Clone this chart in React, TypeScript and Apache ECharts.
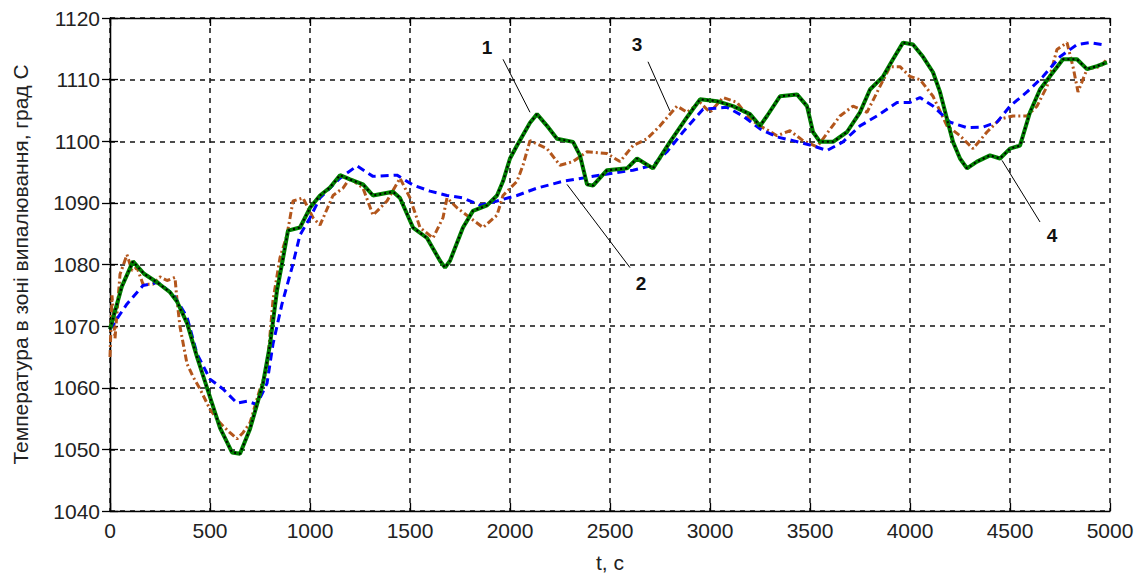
import React, { useEffect, useRef } from "react";
import * as echarts from "echarts";

// Series 1 (black) and 4 (green): measured/model temperature, [t, °C]
const curve1: [number, number][] = [
  [0, 1069.5], [30, 1073], [60, 1076.5], [115, 1080.5], [170, 1078.5], [240, 1077], [300, 1075.5], [335, 1074],
  [385, 1070.5], [435, 1065], [500, 1058.5], [550, 1053.5], [610, 1049.5], [650, 1049.3], [700, 1053.3],
  [765, 1060.7], [800, 1067], [835, 1075.8], [865, 1081], [890, 1085.5], [950, 1086], [1000, 1089.2],
  [1050, 1091.2], [1100, 1092.5], [1150, 1094.5], [1200, 1093.8], [1265, 1093], [1315, 1091.2], [1415, 1091.8],
  [1450, 1090.8], [1515, 1086], [1585, 1084.3], [1650, 1080.6], [1675, 1079.5], [1700, 1080.6], [1765, 1086],
  [1815, 1088.7], [1885, 1089.6], [1935, 1091.2], [1965, 1093.5], [2000, 1097.2], [2035, 1099.3], [2100, 1103],
  [2135, 1104.4], [2185, 1102.5], [2235, 1100.4], [2315, 1099.9], [2350, 1097.7], [2385, 1093], [2415, 1092.8],
  [2485, 1095.3], [2585, 1095.6], [2635, 1097.2], [2715, 1095.6], [2800, 1099.9], [2885, 1103.9], [2950, 1106.8],
  [3035, 1106.5], [3115, 1105.7], [3200, 1104.4], [3250, 1102.5], [3285, 1104.1], [3350, 1107.3], [3435, 1107.6],
  [3485, 1105.7], [3515, 1101.5], [3550, 1099.9], [3615, 1099.9], [3685, 1101.5], [3750, 1104.7], [3800, 1108.4],
  [3865, 1110.5], [3915, 1113.3], [3965, 1116], [4015, 1115.7], [4065, 1113.7], [4115, 1111.2], [4150, 1108],
  [4185, 1103.6], [4215, 1099.9], [4250, 1097.2], [4285, 1095.6], [4335, 1096.7], [4400, 1097.7], [4450, 1097.2],
  [4500, 1098.8], [4550, 1099.3], [4600, 1104.7], [4650, 1108.4], [4715, 1111.2], [4765, 1113.3], [4835, 1113.3],
  [4885, 1111.7], [4935, 1112.2], [4985, 1112.8],
];
const curve4: [number, number][] = curve1;

// Series 2 (blue dashed)
const curve2: [number, number][] = [
  [0, 1069.5], [85, 1073.6], [165, 1076.6], [240, 1077.1], [315, 1075.2], [385, 1071.5], [435, 1065.5],
  [500, 1061.4], [565, 1059.8], [635, 1057.5], [685, 1057.8], [735, 1057.3], [785, 1060.7], [815, 1067.1],
  [860, 1073.6], [910, 1079.5], [950, 1084.8], [1000, 1087.6], [1050, 1090.8], [1150, 1094], [1235, 1096],
  [1315, 1094.3], [1435, 1094.5], [1515, 1092.9], [1600, 1091.9], [1685, 1091.2], [1765, 1090.8], [1850, 1089.6],
  [1935, 1090.3], [2035, 1091.2], [2135, 1092.4], [2265, 1093.5], [2450, 1094.5], [2615, 1095.3], [2715, 1096.1],
  [2785, 1098.3], [2865, 1101.5], [2935, 1104.1], [2965, 1105.2], [3085, 1105.5], [3165, 1104.1], [3250, 1102],
  [3335, 1100.7], [3415, 1100.1], [3500, 1099.4], [3585, 1098.5], [3665, 1099.9], [3750, 1102.5], [3835, 1104.1],
  [3935, 1106.3], [4000, 1106.3], [4050, 1107.1], [4115, 1105.7], [4200, 1103.1], [4285, 1102.2], [4365, 1102.3],
  [4435, 1103.1], [4500, 1105.7], [4585, 1108], [4665, 1110.5], [4750, 1113.7], [4835, 1115.7], [4900, 1116],
  [4960, 1115.7],
];

// Series 3 (brown dash-dot, noisy)
const curve3: [number, number][] = [
  [0, 1065], [10, 1075], [25, 1068], [50, 1078.4], [85, 1081.6], [110, 1079], [135, 1079.5], [165, 1076.8],
  [215, 1076.8], [250, 1078], [285, 1077.4], [325, 1077.9], [335, 1074.2], [350, 1069.9], [385, 1063.9],
  [415, 1061.8], [450, 1059.8], [500, 1056.5], [550, 1054.3], [600, 1052.7], [635, 1051.7], [665, 1052.7],
  [700, 1054.3], [750, 1059.8], [785, 1063], [815, 1074.2], [850, 1081.1], [885, 1084.8], [915, 1090.3],
  [965, 1090.8], [1015, 1087.6], [1050, 1086.4], [1115, 1091.2], [1165, 1092.4], [1200, 1094], [1265, 1092.4],
  [1315, 1088], [1385, 1090.3], [1450, 1094], [1500, 1090.8], [1550, 1086], [1615, 1084.3], [1665, 1087.6],
  [1685, 1090.8], [1735, 1089.2], [1800, 1087.6], [1865, 1086], [1935, 1088], [1965, 1091.2], [2035, 1093.5],
  [2065, 1096.1], [2100, 1100.1], [2185, 1098.8], [2250, 1096.1], [2315, 1096.7], [2385, 1098.3], [2485, 1098],
  [2550, 1096.7], [2615, 1099.3], [2685, 1100.4], [2750, 1102.5], [2835, 1105.7], [2885, 1104.7], [2950, 1106.3],
  [3000, 1104.7], [3065, 1107.1], [3135, 1106.3], [3200, 1103.6], [3250, 1102.5], [3335, 1100.9], [3400, 1101.7],
  [3465, 1100.1], [3535, 1099.1], [3565, 1100.4], [3650, 1104.1], [3715, 1105.7], [3785, 1104.7], [3850, 1108.9],
  [3900, 1112.1], [3950, 1112.1], [4000, 1110.5], [4050, 1110], [4115, 1107.3], [4185, 1102.5], [4250, 1100.9],
  [4315, 1098.8], [4385, 1101.5], [4450, 1103.6], [4515, 1104.1], [4585, 1104.1], [4635, 1105.7], [4685, 1108.9],
  [4735, 1114.9], [4785, 1116], [4815, 1112.1], [4840, 1108], [4885, 1111.7], [4950, 1112.1], [4985, 1113.3],
];

// Curve labels: text, label position, leader line start, leader line end (data coords)
const labelTexts = ["1", "2", "3", "4"];
const labelPos: [number, number][] = [[1885, 1115.2], [2655, 1076.9], [2635, 1115.7], [4710, 1084.7]];
const leaderFrom: [number, number][] = [[1965, 1113.3], [2600, 1079.5], [2690, 1112.9], [4650, 1086.9]];
const leaderTo: [number, number][] = [[2100, 1104.7], [2285, 1093], [2800, 1104.9], [4460, 1096.9]];

const X_MIN = 0, X_MAX = 5000, X_STEP = 500;
const Y_MIN = 1040, Y_MAX = 1120, Y_STEP = 10;

const FONT = "'Liberation Sans', Arial, sans-serif";

export default function App() {
  const ref = useRef<HTMLDivElement>(null);
  useEffect(() => {
    if (!ref.current) return;
    const chart = echarts.init(ref.current, null, { renderer: "svg" });
    const axisLine = { show: true, lineStyle: { color: "#000", width: 1.3 } };
    const tick = { show: true, inside: true, length: 8, lineStyle: { color: "#000", width: 1.3 } };
    const grid = { show: true, lineStyle: { color: "#111", type: [5, 5], width: 1.5 } };
    const fmt = (v: number) => String(v);
    chart.setOption({
      animation: false,
      backgroundColor: "#fff",
      grid: { left: 110, right: 30, top: 18, bottom: 57, containLabel: false },
      xAxis: [
        {
          type: "value", min: X_MIN, max: X_MAX, interval: X_STEP, position: "bottom",
          name: "t, c", nameLocation: "middle", nameGap: 41,
          nameTextStyle: { fontFamily: FONT, fontSize: 21, color: "#222" },
          axisLine, axisTick: tick,
          axisLabel: { fontFamily: FONT, fontSize: 21, color: "#222", margin: 9, formatter: fmt },
          splitLine: grid,
        },
        {
          type: "value", min: X_MIN, max: X_MAX, interval: X_STEP, position: "top",
          axisLine, axisTick: tick, axisLabel: { show: false }, splitLine: { show: false },
        },
      ],
      yAxis: [
        {
          type: "value", min: Y_MIN, max: Y_MAX, interval: Y_STEP, position: "left",
          name: "Температура в зоні випалювання, град С", nameLocation: "middle", nameGap: 79,
          nameTextStyle: { fontFamily: FONT, fontSize: 21, color: "#222" },
          axisLine, axisTick: tick,
          axisLabel: { fontFamily: FONT, fontSize: 21, color: "#222", margin: 10, formatter: fmt },
          splitLine: grid,
        },
        {
          type: "value", min: Y_MIN, max: Y_MAX, interval: Y_STEP, position: "right",
          axisLine, axisTick: tick, axisLabel: { show: false }, splitLine: { show: false },
        },
      ],
      series: [
        {
          name: "3", type: "line", data: curve3, showSymbol: false, symbol: "none",
          lineStyle: { color: "#b3561c", width: 3, type: [7, 3, 2, 3] }, z: 2,
        },
        {
          name: "2", type: "line", data: curve2, showSymbol: false, symbol: "none",
          lineStyle: { color: "#0000ff", width: 3, type: [8, 5] }, z: 3,
        },
        {
          name: "4", type: "line", data: curve4, showSymbol: false, symbol: "none",
          lineStyle: { color: "#008000", width: 4 }, z: 4,
        },
        {
          name: "1", type: "line", data: curve1, showSymbol: false, symbol: "none",
          lineStyle: { color: "#000", width: 2, type: [2, 3] }, z: 5,
        },
      ],
    });

    const px = (p: [number, number]) => chart.convertToPixel({ gridIndex: 0 }, p) as number[];
    const graphic: any[] = [];
    labelTexts.forEach((t, i) => {
      const a = px(leaderFrom[i]);
      const b = px(leaderTo[i]);
      const c = px(labelPos[i]);
      graphic.push({
        type: "line", z: 10,
        shape: { x1: a[0], y1: a[1], x2: b[0], y2: b[1] },
        style: { stroke: "#000", lineWidth: 1 },
      });
      graphic.push({
        type: "text", z: 10, x: c[0], y: c[1],
        style: {
          text: t, fill: "#111", font: `bold 19px ${FONT}`,
          align: "center", verticalAlign: "middle",
        },
      });
    });
    chart.setOption({ graphic });

    return () => chart.dispose();
  }, []);
  return (
    <div
      ref={ref}
      style={{ position: "fixed", left: 0, top: 0, width: 1140, height: 578, background: "#fff" }}
    />
  );
}
